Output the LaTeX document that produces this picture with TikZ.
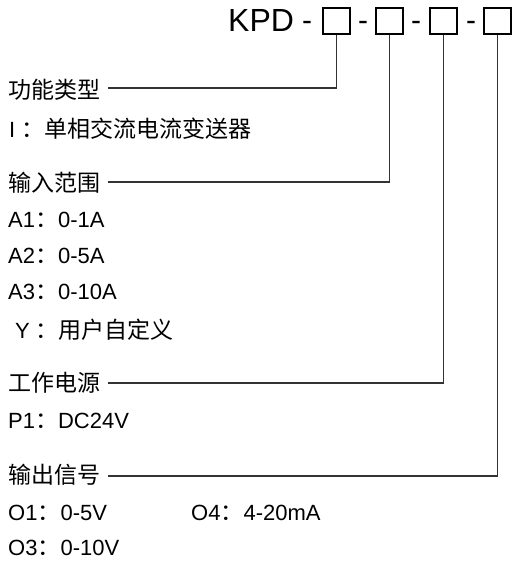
\documentclass[tikz,border=0pt]{standalone}
\usepackage{fontspec}
\setmainfont{Liberation Sans}
\newfontfamily\cjk{Noto Sans CJK SC}
\newcommand\zhtext[1]{{\cjk\fontsize{23}{26}\selectfont #1}}
\begin{document}
\begin{tikzpicture}[x=1pt,y=-1pt,
  txt/.style={anchor=base west,inner sep=0pt,font=\fontsize{22}{26}\selectfont},
  big/.style={anchor=base west,inner sep=0pt,font=\fontsize{32}{38}\selectfont},
  dashtxt/.style={anchor=base,inner sep=0pt,font=\fontsize{30}{36}\selectfont},
  slot/.style={draw=black,line width=2pt,minimum width=27pt,minimum height=26pt,inner sep=0pt,anchor=north west},
  lead/.style={draw=black!80,line width=1.3pt}]
\useasboundingbox (0,0) rectangle (517,573);
% header
\node[big] (kpd) at (228,31) {KPD};
\node[dashtxt] (d1) at (307,30) {-};
\node[dashtxt] (d2) at (363,30) {-};
\node[dashtxt] (d3) at (416,30) {-};
\node[dashtxt] (d4) at (471,30) {-};
\node[slot] (b1) at (322,7) {};
\node[slot] (b2) at (375,7) {};
\node[slot] (b3) at (429,7) {};
\node[slot] (b4) at (483,7) {};
% texts
\node[txt] (t1) at (8,98.5) {\zhtext{功能类型}};
\node[txt] (t1a) at (9,137.5) {I \zhtext{：单相交流电流变送器}};
\node[txt] (t2) at (8,191.5) {\zhtext{输入范围}};
\node[txt] (t2a) at (8,227) {A1\zhtext{：}0-1A};
\node[txt] (t2b) at (8,263) {A2\zhtext{：}0-5A};
\node[txt] (t2c) at (8,299) {A3\zhtext{：}0-10A};
\node[txt] (t2d) at (15,338) {Y \zhtext{：用户自定义}};
\node[txt] (t3) at (8,391.5) {\zhtext{工作电源}};
\node[txt] (t3a) at (8,428) {P1\zhtext{：}DC24V};
\node[txt] (t4) at (8,483.5) {\zhtext{输出信号}};
\node[txt] (t4a) at (8,520) {O1\zhtext{：}0-5V};
\node[txt] (t4b) at (191,520) {O4\zhtext{：}4-20mA};
\node[txt] (t4c) at (8,555) {O3\zhtext{：}0-10V};
% leaders
\coordinate (l1) at (108,88);
\coordinate (l2) at (108,182);
\coordinate (l3) at (108,383);
\coordinate (l4) at (108,476);
\draw[lead] (l1) -| (b1.south);
\draw[lead] (l2) -| (b2.south);
\draw[lead] (l3) -| (b3.south);
\draw[lead] (l4) -| (b4.south);
\end{tikzpicture}
\end{document}
